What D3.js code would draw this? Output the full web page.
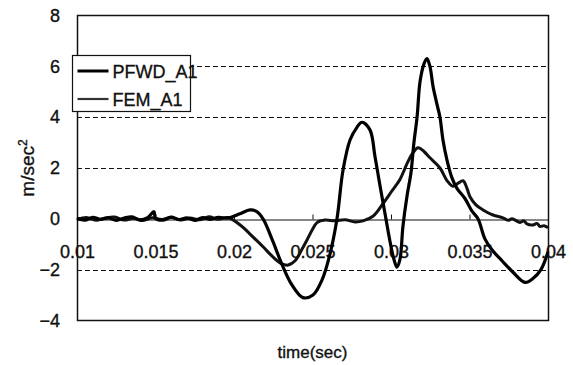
<!DOCTYPE html>
<meta charset="utf-8">
<style>
  body { margin: 0; background: #fff; }
  text { font-family: "Liberation Sans", Arial, sans-serif; fill: #111; stroke: #111; stroke-width: 0.35px; }
  .grid line { stroke: #111; stroke-dasharray: 5,3; }
</style>
<body>
<script src="https://cdnjs.cloudflare.com/ajax/libs/d3/7.8.5/d3.min.js"></script>
<script>
// PFWD_A1 (measured), time in sec, accel in m/sec^2
var pfwdT = [0.0100,0.0105,0.0110,0.0115,0.0120,0.0125,0.0130,0.0135,0.0140,0.0145,0.0149,0.0150,0.0155,0.0160,0.0165,0.0170,0.0175,0.0180,0.0185,0.0190,0.0195,
  0.01975,0.02038,0.02102,0.02140,0.02185,0.02242,0.02306,0.02369,0.02439,0.02503,0.02561,0.02611,0.02656,0.02694,0.02739,0.02783,0.02815,0.02866,0.02898,
  0.02930,0.02962,0.02994,0.03019,0.03038,0.03057,0.03076,0.03102,0.03127,0.03146,0.03166,0.03185,0.03210,0.03229,0.03248,0.03268,0.03293,0.03312,0.03331,
  0.03357,0.03389,0.03420,0.03471,0.03516,0.03554,0.03599,0.03643,0.03707,0.03777,0.03854,0.03904,0.03955,0.04000];
var pfwdV = [0.02,-0.05,0.06,-0.02,0.04,-0.06,0.03,0.08,-0.04,0.05,0.28,0.02,-0.05,0.07,-0.03,0.04,-0.06,0.05,-0.02,0.06,0.03,
  0.05,0.2,0.35,0.3,0.0,-0.8,-1.8,-2.6,-3.1,-3.0,-2.4,-1.4,0.0,1.9,3.1,3.6,3.8,3.5,2.45,
  1.3,0.2,-0.9,-1.6,-1.9,-1.6,-0.3,0.9,1.8,3.0,4.0,5.4,6.1,6.3,6.0,5.2,4.5,4.0,3.1,
  2.3,1.6,1.2,0.8,0.3,0.0,-0.8,-1.22,-1.65,-2.1,-2.5,-2.35,-2.0,-1.3];

// FEM_A1
var femT = [0.0100,0.0106,0.0112,0.0118,0.0124,0.0130,0.0136,0.0142,0.0148,0.0154,0.0160,0.0166,0.0172,0.0178,0.0184,0.0190,0.0196,
  0.02051,0.02102,0.02185,0.02248,0.02299,0.02344,0.02389,0.02433,0.02465,0.02497,0.02529,0.02580,0.02643,0.02707,0.02771,0.02822,0.02885,
  0.02949,0.03006,0.03057,0.03083,0.03108,0.03140,0.03172,0.03210,0.03248,0.03312,0.03357,0.03395,0.03427,0.03459,0.03484,0.03503,0.03541,
  0.03586,0.03650,0.03713,0.03745,0.03771,0.03822,0.03847,0.03866,0.03904,0.03930,0.03949,0.03975,0.04000];
var femV = [-0.04,0.05,-0.06,0.03,0.07,-0.05,0.02,-0.07,0.04,-0.03,0.06,-0.05,0.03,-0.04,0.08,-0.02,0.05,
  -0.3,-0.6,-1.1,-1.5,-1.75,-1.82,-1.65,-1.2,-0.83,-0.45,-0.15,-0.05,-0.08,-0.04,-0.12,-0.08,0.1,
  0.6,1.1,1.55,1.9,2.25,2.6,2.8,2.65,2.4,2.0,1.5,1.28,1.4,1.5,1.2,0.87,0.55,
  0.35,0.15,0.04,-0.06,0.0,-0.14,-0.08,-0.2,-0.24,-0.18,-0.3,-0.27,-0.35];

var xTicks = [0.01, 0.015, 0.02, 0.025, 0.03, 0.035, 0.04];
var xTickLabels = ["0.01", "0.015", "0.02", "0.025", "0.03", "0.035", "0.04"];
var yTicks = [-4, -2, 0, 2, 4, 6, 8];
var yGrid = [-2, 2, 4, 6];

var W = 573, H = 365;
var plot = {left: 77, right: 548, top: 15.5, bottom: 320.5};

var svg = d3.select("body").append("svg")
  .attr("width", W)
  .attr("height", H);

var x = d3.scaleLinear().domain([0.01, 0.04]).range([plot.left, plot.right]);
var y = d3.scaleLinear().domain([-4, 8]).range([plot.bottom, plot.top]);

// dashed grid
svg.append("g").attr("class", "grid")
  .selectAll("line").data(yGrid).join("line")
  .attr("x1", plot.left).attr("x2", plot.right)
  .attr("y1", function(d){ return Math.round(y(d)) + 0.5; })
  .attr("y2", function(d){ return Math.round(y(d)) + 0.5; });

// plot frame
svg.append("rect")
  .attr("x", plot.left + 0.5).attr("y", plot.top)
  .attr("width", plot.right - plot.left).attr("height", plot.bottom - plot.top)
  .attr("fill", "none").attr("stroke", "#111").attr("stroke-width", 1.5);

// y axis labels
var yAxis = d3.axisLeft(y).tickValues(yTicks).tickSize(0).tickPadding(17)
  .tickFormat(function(d){ return d < 0 ? "\u2212" + Math.abs(d) : d; });
svg.append("g")
  .attr("transform", "translate(" + plot.left + ",0)")
  .call(yAxis)
  .call(function(g){ g.select(".domain").remove(); })
  .selectAll("text").style("font-size", "18px").attr("fill", "#111");

// x axis on zero line, ticks pointing up, labels below
var y0 = Math.round(y(0)) + 0.5;
var xAxis = d3.axisBottom(x).tickValues(xTicks).tickSize(-5).tickPadding(0)
  .tickFormat(function(d, i){ return xTickLabels[i]; });
var xg = svg.append("g")
  .attr("transform", "translate(0," + y0 + ")")
  .call(xAxis);
xg.select(".domain").attr("stroke", "#111");
xg.selectAll(".tick line").attr("stroke", "#111");
xg.selectAll("text")
  .attr("y", 38).attr("dy", null)
  .style("font-size", "18px").attr("fill", "#111");

// curves
var line = d3.line()
  .x(function(d){ return x(d[0]); })
  .y(function(d){ return y(d[1]); })
  .curve(d3.curveCatmullRom.alpha(0.5));

var fem = femT.map(function(t, i){ return [t, femV[i]]; });
var pfwd = pfwdT.map(function(t, i){ return [t, pfwdV[i]]; });

svg.append("path").datum(fem)
  .attr("d", line).attr("fill", "none")
  .attr("stroke", "#111").attr("stroke-width", 3).attr("stroke-linejoin", "round");

svg.append("path").datum(pfwd)
  .attr("d", line).attr("fill", "none")
  .attr("stroke", "#000").attr("stroke-width", 3.2).attr("stroke-linejoin", "round");

// legend
var legend = svg.append("g").attr("transform", "translate(72.5,55.5)");
legend.append("rect")
  .attr("width", 118).attr("height", 56)
  .attr("fill", "#fff").attr("stroke", "#111").attr("stroke-width", 1.2);
var items = [{name: "PFWD_A1", w: 3, c: "#000"}, {name: "FEM_A1", w: 2.2, c: "#333"}];
items.forEach(function(d, i){
  var ly = 15.5 + i * 28;
  legend.append("line")
    .attr("x1", 5).attr("x2", 36).attr("y1", ly).attr("y2", ly)
    .attr("stroke", d.c).attr("stroke-width", d.w);
  legend.append("text")
    .attr("x", 40).attr("y", ly + 7)
    .style("font-size", "18px")
    .text(d.name);
});

// axis titles
svg.append("text")
  .attr("x", (plot.left + plot.right) / 2).attr("y", 358)
  .attr("text-anchor", "middle")
  .style("font-size", "17px")
  .text("time(sec)");

var yt = svg.append("text")
  .attr("transform", "translate(34,168) rotate(-90)")
  .attr("text-anchor", "middle")
  .style("font-size", "19px");
yt.append("tspan").text("m/sec");
yt.append("tspan").attr("dy", "-0.55em").style("font-size", "12px").text("2");
</script>
</body>
